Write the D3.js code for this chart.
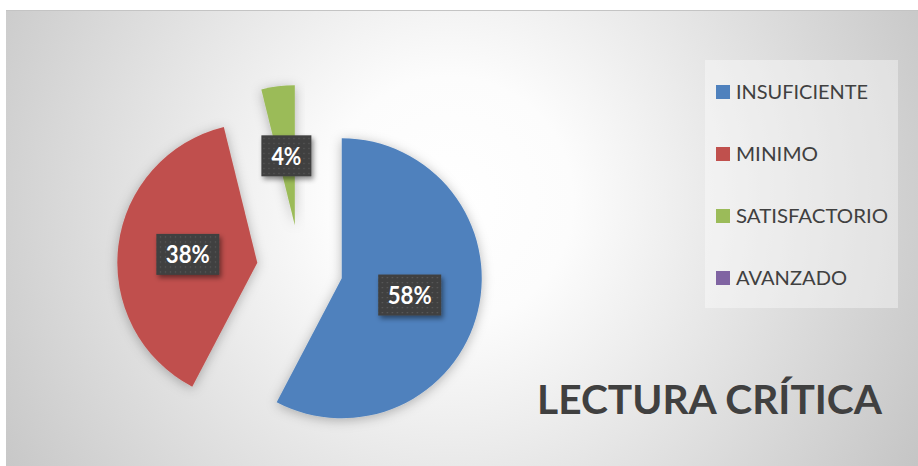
<!DOCTYPE html>
<html>
<head>
<meta charset="utf-8">
<script src="https://cdn.jsdelivr.net/npm/d3@7"></script>
<style>
  html, body { margin: 0; padding: 0; background: #ffffff; }
  svg { display: block; }
</style>
</head>
<body>
<svg id="chart" width="918" height="466"></svg>
<script>
// ---- data ----
const categories = ["INSUFICIENTE", "MINIMO", "SATISFACTORIO", "AVANZADO"];
const counts = [15, 10, 1, 0];
const colors = ["#4f81bd", "#c0504d", "#9bbb59", "#8064a2"];
const title = "LECTURA CRÍTICA";

// ---- layout ----
const W = 918, H = 466;
const cx = 300, cy = 268, R = 140, explode = 43;

const svg = d3.select("#chart");
const defs = svg.append("defs");

const bg = defs.append("radialGradient").attr("id", "bg")
  .attr("gradientUnits", "userSpaceOnUse")
  .attr("cx", 450).attr("cy", 200).attr("r", 560);
bg.append("stop").attr("offset", 0).attr("stop-color", "#ffffff");
bg.append("stop").attr("offset", 0.22).attr("stop-color", "#fcfcfc");
bg.append("stop").attr("offset", 1).attr("stop-color", "#c2c2c2");

const sh = defs.append("filter").attr("id", "sliceShadow")
  .attr("x", "-30%").attr("y", "-30%").attr("width", "160%").attr("height", "160%");
sh.append("feDropShadow").attr("dx", 0).attr("dy", 2).attr("stdDeviation", 6)
  .attr("flood-color", "#000").attr("flood-opacity", 0.28);

const lsh = defs.append("filter").attr("id", "labelShadow")
  .attr("x", "-30%").attr("y", "-30%").attr("width", "160%").attr("height", "170%");
lsh.append("feDropShadow").attr("dx", 2).attr("dy", 3).attr("stdDeviation", 2.5)
  .attr("flood-color", "#000").attr("flood-opacity", 0.45);

const pat = defs.append("pattern").attr("id", "dots")
  .attr("patternUnits", "userSpaceOnUse").attr("width", 5).attr("height", 5);
pat.append("rect").attr("width", 5).attr("height", 5).attr("fill", "#404040");
pat.append("rect").attr("x", 2).attr("y", 2).attr("width", 1.2).attr("height", 1.2).attr("fill", "#5e5e5e");

// background
svg.append("rect").attr("x", 6).attr("y", 10).attr("width", W - 6).attr("height", H - 10)
  .attr("fill", "url(#bg)");
svg.append("line").attr("x1", 6).attr("x2", W).attr("y1", 10.5).attr("y2", 10.5)
  .attr("stroke", "#c4c4c4").attr("stroke-width", 1);

// pie
const total = d3.sum(counts);
const pct = d3.format(".0%");
const pie = d3.pie().sort(null).value(d => d);
const arcs = pie(counts);
const arc = d3.arc().innerRadius(0).outerRadius(R);

const offset = d => {
  const m = (d.startAngle + d.endAngle) / 2;
  return [Math.sin(m) * explode, -Math.cos(m) * explode];
};

const g = svg.append("g").attr("transform", `translate(${cx},${cy})`);
g.selectAll("path.slice").data(arcs.filter(d => d.value > 0)).join("path")
  .attr("class", "slice")
  .attr("d", arc)
  .attr("fill", d => colors[d.index])
  .attr("transform", d => `translate(${offset(d)})`)
  .attr("filter", "url(#sliceShadow)");

// labels
const lab = g.selectAll("g.lab").data(arcs.filter(d => d.value > 0)).join("g")
  .attr("class", "lab")
  .attr("transform", d => {
    const o = offset(d), c = arc.centroid(d);
    return `translate(${o[0] + c[0]},${o[1] + c[1]})`;
  });
const boxes = lab.append("rect").attr("fill", "url(#dots)").attr("filter", "url(#labelShadow)");
const texts = lab.append("text")
  .attr("text-anchor", "middle").attr("y", 9)
  .attr("font-family", "Lato, 'Open Sans', sans-serif").attr("font-weight", "bold")
  .attr("font-size", 24).attr("fill", "#ffffff")
  .text(d => pct(d.value / total));
texts.each(function () {
  const n = this.textContent.length;
  const w = n === 2 ? 30 : 44;
  d3.select(this).attr("textLength", w).attr("lengthAdjust", "spacingAndGlyphs");
});
boxes.each(function (d) {
  const n = pct(d.value / total).length;
  const w = n === 2 ? 50 : 63;
  d3.select(this).attr("x", -w / 2).attr("y", -20.5).attr("width", w).attr("height", 41);
});

// legend
svg.append("rect").attr("x", 705).attr("y", 60).attr("width", 193).attr("height", 248)
  .attr("fill", "#ffffff").attr("fill-opacity", 0.38);
const legendWidths = [132, 82, 152, 111];
const ly = d3.scalePoint().domain(categories).range([92, 278]);
const lg = svg.selectAll("g.leg").data(categories).join("g")
  .attr("class", "leg")
  .attr("transform", d => `translate(716,${ly(d)})`);
lg.append("rect").attr("x", 0).attr("y", -7).attr("width", 14).attr("height", 14)
  .attr("fill", (d, i) => colors[i]);
lg.append("text").attr("x", 20).attr("y", 7)
  .attr("font-family", "Lato, 'Open Sans', sans-serif").attr("font-size", 19)
  .attr("fill", "#404040")
  .attr("textLength", (d, i) => legendWidths[i]).attr("lengthAdjust", "spacingAndGlyphs")
  .text(d => d);

// title
svg.append("text").attr("x", 537).attr("y", 414)
  .attr("font-family", "Lato, 'Open Sans', sans-serif").attr("font-weight", "bold")
  .attr("font-size", 40).attr("fill", "#404040")
  .attr("textLength", 345).attr("lengthAdjust", "spacingAndGlyphs")
  .text(title);
</script>
</body>
</html>
